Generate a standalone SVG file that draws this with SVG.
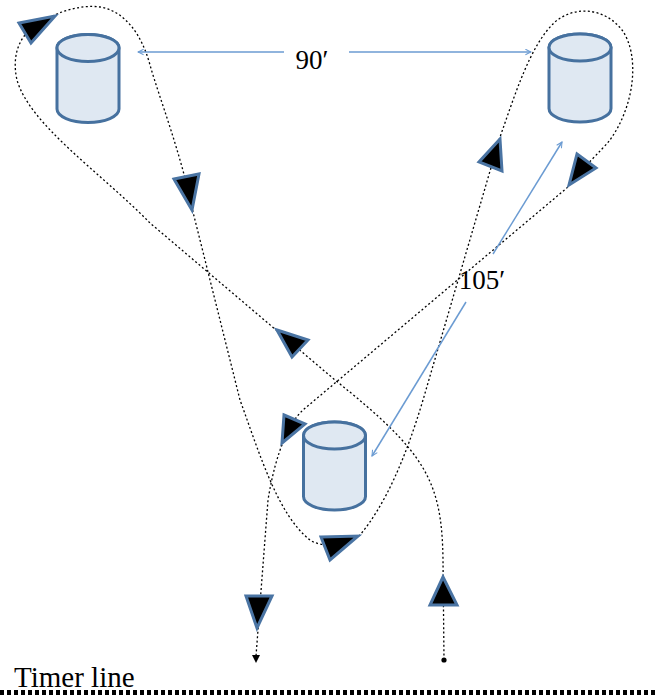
<svg xmlns="http://www.w3.org/2000/svg" xmlns:xlink="http://www.w3.org/1999/xlink" width="665" height="696" viewBox="0 0 665 696">
<style>
.route{fill:none;stroke:#000;stroke-width:1.3;stroke-dasharray:2 2.4}
.tri{fill:#000;stroke:#4a74a3;stroke-width:3;stroke-linejoin:miter}
.dim{fill:none;stroke:#6b9bd2;stroke-width:1.5}
.lbl{font-family:"Liberation Serif","Times New Roman",serif;font-size:27px;fill:#000}
.big{font-size:29px}
.barrel{fill:#dfe8f2;stroke:#46719f;stroke-width:3}
</style>
<defs>
<g id="cyl">
<path class="barrel" d="M-31,0 L-31,61 A31,13.5 0 0 0 31,61 L31,0 A31,13.5 0 0 0 -31,0 Z"/>
<ellipse class="barrel" cx="0" cy="0" rx="31" ry="13.5"/>
</g>
<marker id="open" viewBox="0 0 10 10" refX="9" refY="5" markerWidth="7" markerHeight="7" orient="auto" markerUnits="userSpaceOnUse">
<path d="M1,1 L9,5 L1,9" fill="none" stroke="#6b9bd2" stroke-width="1.5"/>
</marker>
</defs>
<g id="barrel-1"><use xlink:href="#cyl" x="88" y="48"/></g>
<g id="barrel-2"><use xlink:href="#cyl" x="580" y="47.5"/></g>
<g id="barrel-3"><use xlink:href="#cyl" x="334.5" y="435.5"/></g>
<g id="connectors">
<path class="route" d="M444,660 L443,560 C442,480 425,452 335,380 L150,223 C100,172 30,125 17,80 C12,58 18,40 30,30 C50,13 80,4 100,7 C125,11 142,35 150,65 C160,100 180,150 193,212 L240,400 C260,455 278,515 310,540 C322,548 340,545 360,535 C385,505 405,460 423,400 L500,137 C515,95 530,45 555,22 C575,5 605,8 622,30 C640,55 635,105 610,140 C600,152 585,165 568,187 L303,410 C290,422 276,450 268,500 L256,656"/>
<path d="M252,655 L260,655 L256,663 Z" fill="#000"/>
<circle cx="444" cy="660" r="2.6" fill="#000"/>
<polygon class="tri" points="443,577 430,605 457,605"/>
<polygon class="tri" points="246,596 272,596 257,628"/>
<polygon class="tri" points="277,330 308,340 292,357"/>
<polygon class="tri" points="19,23 55,16 31,43"/>
<polygon class="tri" points="174,179 199,174 192,210"/>
<polygon class="tri" points="321,537 358,536 330,560"/>
<polygon class="tri" points="500,139 479,162 502,171"/>
<polygon class="tri" points="577,154 596,168 569,185"/>
<polygon class="tri" points="284,415 305,424 282,443"/>
<line class="dim" x1="284" y1="52" x2="138" y2="52" marker-end="url(#open)"/>
<line class="dim" x1="349" y1="52" x2="531" y2="52" marker-end="url(#open)"/>
<line class="dim" x1="493" y1="254" x2="562" y2="142" marker-end="url(#open)"/>
<line class="dim" x1="466" y1="302" x2="372" y2="456" marker-end="url(#open)"/>
</g>
<g id="labels">
<text class="lbl" x="312" y="69" text-anchor="middle">90′</text>
<text class="lbl" x="482" y="289" text-anchor="middle">105′</text>
<text class="lbl big" x="14" y="687">Timer line</text>
</g>
<line x1="0" y1="692.5" x2="656" y2="692.5" stroke="#000" stroke-width="5" stroke-dasharray="4 3"/>
</svg>
